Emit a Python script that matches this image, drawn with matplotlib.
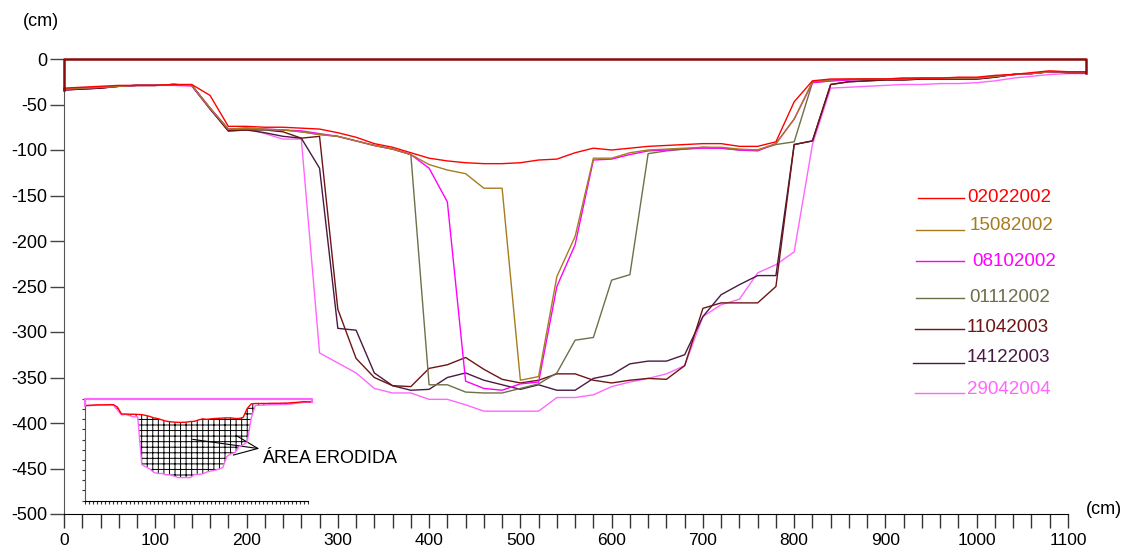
import matplotlib
matplotlib.use('Agg')
import matplotlib.pyplot as plt
from matplotlib.lines import Line2D
from matplotlib.ticker import MultipleLocator
import numpy as np

plt.rcParams['font.family'] = ['Liberation Sans', 'DejaVu Sans']
plt.rcParams['hatch.linewidth'] = 0.7
plt.rcParams['axes.unicode_minus'] = False

# survey stations every 20 cm across the channel
dist = np.arange(0, 1121, 20)

s02022002 = [-32, -31, -30, -29, -29, -29, -28, -28, -40, -74,
             -74, -75, -75, -76, -77, -81, -86, -93, -97, -103,
             -109, -112, -114, -115, -115, -114, -111, -110, -103, -98,
             -100, -98, -96, -95, -94, -93, -93, -96, -96, -91,
             -47, -24, -22, -22, -22, -22, -21, -21, -21, -20,
             -20, -18, -17, -15, -13, -14, -14]
s15082002 = [-33, -32, -31, -30, -29, -29, -28, -29, -54, -77,
             -76, -77, -78, -80, -83, -85, -90, -95, -99, -105,
             -116, -122, -126, -142, -142, -353, -349, -239, -195, -109,
             -109, -103, -100, -99, -98, -97, -97, -99, -100, -93,
             -66, -25, -23, -22, -22, -22, -21, -21, -21, -21,
             -21, -19, -17, -16, -14, -14, -14]
s08102002 = [-33, -32, -31, -30, -29, -29, -28, -29, -54, -77,
             -76, -77, -78, -79, -82, -85, -90, -95, -99, -105,
             -120, -157, -354, -362, -364, -357, -355, -250, -204, -111,
             -110, -105, -101, -100, -99, -98, -98, -100, -101, -93,
             -66, -26, -24, -23, -22, -22, -22, -21, -21, -21,
             -21, -19, -17, -16, -14, -14, -14]
s01112002 = [-33, -32, -31, -30, -29, -29, -28, -29, -54, -77,
             -77, -78, -78, -80, -83, -85, -90, -95, -99, -105,
             -358, -358, -366, -367, -367, -362, -357, -345, -309, -306,
             -243, -237, -104, -101, -99, -97, -98, -100, -100, -94,
             -91, -26, -24, -23, -22, -22, -22, -21, -21, -21,
             -21, -19, -17, -16, -14, -14, -14]
s11042003 = [-34, -33, -32, -30, -29, -29, -28, -29, -54, -79,
             -78, -78, -80, -87, -85, -275, -329, -350, -359, -360,
             -340, -336, -328, -341, -352, -356, -353, -346, -346, -353,
             -356, -353, -351, -352, -337, -274, -268, -268, -268, -250,
             -94, -90, -28, -25, -24, -23, -23, -22, -22, -22,
             -22, -20, -17, -16, -14, -15, -15]
s14122003 = [-34, -33, -32, -30, -29, -29, -28, -29, -55, -79,
             -78, -81, -85, -87, -120, -296, -298, -345, -359, -364,
             -363, -350, -345, -353, -358, -363, -358, -364, -364, -351,
             -347, -335, -332, -332, -325, -283, -259, -248, -238, -238,
             -94, -90, -28, -25, -24, -23, -23, -22, -22, -22,
             -22, -20, -17, -16, -14, -15, -15]
s29042004 = [-34, -33, -32, -30, -29, -29, -29, -30, -55, -78,
             -76, -82, -88, -88, -323, -334, -345, -362, -367, -367,
             -374, -374, -380, -387, -387, -387, -387, -372, -372, -369,
             -360, -355, -351, -346, -337, -283, -270, -264, -235, -226,
             -212, -94, -32, -31, -30, -29, -28, -28, -27, -27,
             -26, -24, -21, -19, -17, -16, -16]

dates = ['02022002', '15082002', '08102002', '01112002',
         '11042003', '14122003', '29042004']
profiles = [s02022002, s15082002, s08102002, s01112002,
            s11042003, s14122003, s29042004]
colors = ['#ff0000', '#a67c1e', '#ff00ff', '#6f6f4a',
          '#6e1414', '#4a1a44', '#ff66ff']

W, H = 1125, 552


def fx(px):
    return px / W


def fy(py):
    return 1 - py / H


fig = plt.figure(figsize=(W / 100, H / 100), dpi=100)
ax = fig.add_axes([fx(64), fy(514), 1004 / W, 455 / H])

# oldest survey drawn last so it sits on top
for prof, col in reversed(list(zip(profiles, colors))):
    ax.plot(dist, prof, color=col, lw=1.0, clip_on=False, zorder=3)

# water surface / section outline
ax.plot([0, 0, dist[-1], dist[-1]], [s11042003[0], 0, 0, s11042003[-1]],
        color='#8b0a0a', lw=1.8, clip_on=False, zorder=4)

ax.set_xlim(0, 1100)
ax.set_ylim(-500, 0)
ax.spines['top'].set_visible(False)
ax.spines['right'].set_visible(False)
ax.spines['left'].set_color('#555555')
ax.spines['bottom'].set_color('black')
ax.xaxis.set_major_locator(MultipleLocator(100))
ax.xaxis.set_minor_locator(MultipleLocator(20))
ax.yaxis.set_major_locator(MultipleLocator(50))
ax.tick_params(axis='x', which='both', direction='out', length=10, width=1,
               color='#333333', labelsize=12.5, pad=4)
ax.tick_params(axis='y', direction='out', length=10, width=1,
               color='#444444', labelsize=13, pad=2)
for t in ax.xaxis.get_major_ticks():
    if t.get_loc() > 0:
        t.tick1line.set_color('red')

fig.text(fx(41), fy(21), '(cm)', fontsize=13, ha='center', va='center')
fig.text(fx(1086), fy(510), '(cm)', fontsize=13, ha='left', va='center')

# legend entries
leg_pos = [(918, 198, 967, 198), (916, 230, 970, 226), (916, 261, 972, 261),
           (916, 298, 969, 297), (915, 329, 967, 327), (913, 363, 967, 357),
           (915, 393, 967, 390)]
for (lx, ly, tx, ty), lab, col in zip(leg_pos, dates, colors):
    fig.add_artist(Line2D([fx(lx), fx(964)], [fy(ly), fy(ly)], color=col,
                          lw=1.0, transform=fig.transFigure))
    fig.text(fx(tx), fy(ty), lab, color=col, fontsize=13.5,
             ha='left', va='center')

# small sketch of the eroded area
ins = fig.add_axes([fx(85), fy(500.5), 223 / W, 101.5 / H])
ins.patch.set_alpha(0)
ins.fill_between(dist, s02022002, s29042004, facecolor='none',
                 edgecolor='black', hatch='+++', lw=0, zorder=1)
ins.plot(dist, s29042004, color='#ff66ff', lw=1.0, clip_on=False, zorder=3)
ins.plot(dist, s02022002, color='#ff0000', lw=1.0, clip_on=False, zorder=3)
ins.plot([0, 0, dist[-1], dist[-1]], [s02022002[0], 0, 0, s02022002[-1]],
         color='#ff66ff', lw=1.6, clip_on=False, zorder=4)
ins.set_xlim(0, 1100)
ins.set_ylim(-500, 0)
ins.spines['top'].set_visible(False)
ins.spines['right'].set_visible(False)
ins.spines['left'].set_color('#555555')
ins.xaxis.set_major_locator(MultipleLocator(100))
ins.xaxis.set_minor_locator(MultipleLocator(20))
ins.yaxis.set_major_locator(MultipleLocator(50))
ins.tick_params(which='both', length=2.5, width=0.8, color='#333333',
                labelbottom=False, labelleft=False)
for t in ins.xaxis.get_major_ticks():
    if t.get_loc() > 0:
        t.tick1line.set_color('red')

ax.annotate('ÁREA ERODIDA', xy=(141, -418), xytext=(217, -439),
            fontsize=13, ha='left', va='center', zorder=6,
            arrowprops=dict(arrowstyle='<-, head_length=1.3, head_width=0.55',
                            color='black', lw=0.8, shrinkA=0, shrinkB=0))

fig.savefig('out.png', dpi=100)
